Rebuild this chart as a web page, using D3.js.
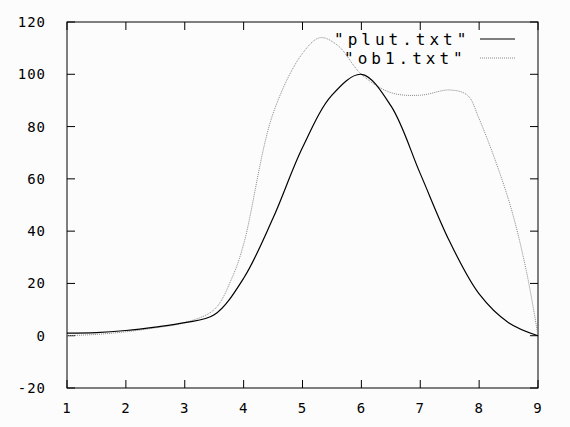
<!DOCTYPE html><html><head><script src="https://cdn.jsdelivr.net/npm/d3@7"></script>
<style>body{margin:0;background:#fcfcfc}</style></head><body><svg id="c" width="570" height="427"></svg>
<script>
const plutX=[1,1.5,2,2.5,3,3.5,4,4.5,5,5.5,6,6.5,7,7.5,8,8.5,9];
const plutY=[1,1.2,2,3.3,5,8,22,45,72,92,100,88,62,36,16,5,0];
const ob1X=[1,1.5,2,2.5,3,3.5,3.8,4,4.5,5,5.3,5.6,6,6.5,7,7.5,7.8,8,8.5,8.8,9];
const ob1Y=[0,0.5,1.5,3,5,10,22,35,85,108,114,111,100,93,92,94,92,83,52,25,0];
const xTicks=[1,2,3,4,5,6,7,8,9];
const yTicks=[-20,0,20,40,60,80,100,120];
const svg=d3.select("#c");
const x=d3.scaleLinear().domain([1,9]).range([67,538]);
const y=d3.scaleLinear().domain([-20,120]).range([388,22]);
const font="'DejaVu Sans Mono',monospace";
const g=svg.append("g").attr("font-family",font).attr("font-size",14).attr("fill","#000").attr("letter-spacing",1);
xTicks.forEach(t=>{
  g.append("line").attr("x1",x(t)).attr("x2",x(t)).attr("y1",388).attr("y2",380).attr("stroke","#000");
  g.append("line").attr("x1",x(t)).attr("x2",x(t)).attr("y1",22).attr("y2",30).attr("stroke","#000");
  g.append("text").attr("x",x(t)).attr("y",413).attr("text-anchor","middle").text(t);
});
yTicks.forEach(t=>{
  g.append("line").attr("x1",67).attr("x2",75).attr("y1",y(t)).attr("y2",y(t)).attr("stroke","#000");
  g.append("line").attr("x1",538).attr("x2",530).attr("y1",y(t)).attr("y2",y(t)).attr("stroke","#000");
  g.append("text").attr("x",46).attr("y",y(t)+5).attr("text-anchor","end").text(t);
});
svg.append("rect").attr("x",67).attr("y",22).attr("width",471).attr("height",366).attr("fill","none").attr("stroke","#000");
const line=d3.line().x(d=>x(d[0])).y(d=>y(d[1])).curve(d3.curveCatmullRom);
svg.append("path").attr("d",line(ob1X.map((v,i)=>[v,ob1Y[i]]))).attr("fill","none").attr("stroke","#888").attr("stroke-dasharray","1,1");
svg.append("path").attr("d",line(plutX.map((v,i)=>[v,plutY[i]]))).attr("fill","none").attr("stroke","#000").attr("stroke-width",1.2);
const lg=svg.append("g").attr("font-family",font).attr("font-size",16).attr("fill","#000").attr("letter-spacing",4);
lg.append("text").attr("x",334).attr("y",45).text('"plut.txt"');
lg.append("text").attr("x",344).attr("y",64).text('"ob1.txt"');
svg.append("line").attr("x1",458+ 22).attr("x2",515).attr("y1",39).attr("y2",39).attr("stroke","#000");
svg.append("line").attr("x1",480).attr("x2",515).attr("y1",58).attr("y2",58).attr("stroke","#888").attr("stroke-dasharray","1,1");
</script></body></html>
